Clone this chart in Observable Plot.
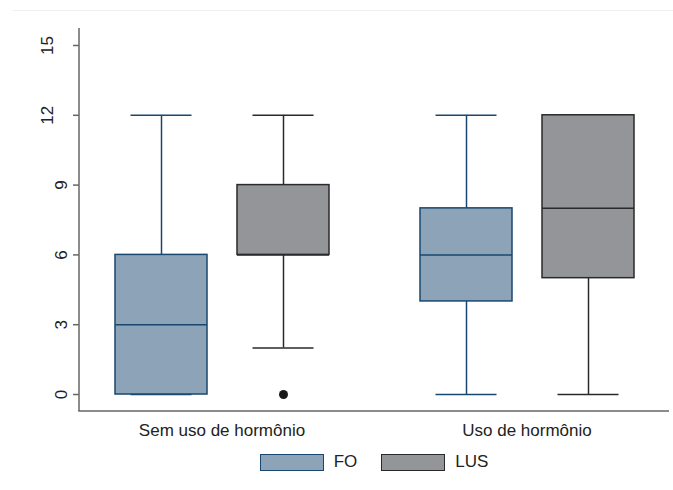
<!DOCTYPE html>
<html><head><meta charset="utf-8">
<script src="https://cdn.jsdelivr.net/npm/d3@7"></script>
<script src="https://cdn.jsdelivr.net/npm/@observablehq/plot@0.6"></script>
<style>
body{margin:0;background:#fff;font-family:"Liberation Sans",Arial,sans-serif;}
#wrap{position:relative;width:673px;height:490px;background:#fff;}
#topline{position:absolute;left:12px;top:10px;width:661px;height:1px;background:#f0f0f0;}
#legend{display:flex;justify-content:center;align-items:center;margin-left:79px;width:590px;margin-top:7px;font-size:17px;color:#222;}
.sw{box-sizing:border-box;width:64px;height:17px;border:1.5px solid;margin-right:10px;}
.item{display:flex;align-items:center;margin:0 12px;}
</style></head>
<body><div id="wrap"><div id="topline"></div><div id="chart"></div><div id="legend"></div></div>
<script>
const groups = ["Sem uso de hormônio", "Uso de hormônio"];
const series = ["FO", "LUS"];
// values per group (rows) and series (columns)
const whiskerLow  = [[0, 2], [0, 0]];
const quart1      = [[0, 6], [4, 5]];
const medians     = [[3, 6], [6, 8]];
const quart3      = [[6, 9], [8, 12]];
const whiskerHigh = [[12, 12], [12, 12]];
const outlierGroup = ["Sem uso de hormônio"];
const outlierSeries = ["LUS"];
const outlierValue = [0];
const yTicks = [0, 3, 6, 9, 12, 15];

const fillColors = {FO: "#8da4b8", LUS: "#939598"};
const strokeColors = {FO: "#1a476f", LUS: "#2a2a2a"};

const table = [];
groups.forEach((g, gi) => series.forEach((s, si) => table.push({
  group: g, series: s, lo: whiskerLow[gi][si], q1: quart1[gi][si],
  med: medians[gi][si], q3: quart3[gi][si], hi: whiskerHigh[gi][si]
})));
const outliers = outlierValue.map((v, i) => ({group: outlierGroup[i], series: outlierSeries[i], value: v}));

const marks = [];
series.forEach(s => {
  const d = table.filter(r => r.series === s);
  const st = strokeColors[s];
  marks.push(
    Plot.ruleX(d, {fx: "group", x: "series", y1: "lo", y2: "q1", stroke: st, strokeWidth: 1.5}),
    Plot.ruleX(d, {fx: "group", x: "series", y1: "q3", y2: "hi", stroke: st, strokeWidth: 1.5}),
    Plot.tickY(d, {fx: "group", x: "series", y: "lo", stroke: st, strokeWidth: 1.5, insetLeft: 15.5, insetRight: 15.5}),
    Plot.tickY(d, {fx: "group", x: "series", y: "hi", stroke: st, strokeWidth: 1.5, insetLeft: 15.5, insetRight: 15.5}),
    Plot.barY(d, {fx: "group", x: "series", y1: "q1", y2: "q3", fill: fillColors[s], stroke: st, strokeWidth: 1.5}),
    Plot.tickY(d, {fx: "group", x: "series", y: "med", stroke: st, strokeWidth: 1.5})
  );
});
marks.push(Plot.dot(outliers, {fx: "group", x: "series", y: "value", r: 4.5, fill: "#1a1a1a", stroke: "none"}));
// rotated tick labels: shorter labels sit closer to the axis, as in the original
const shortTicks = yTicks.filter(t => String(t).length === 1);
const longTicks = yTicks.filter(t => String(t).length > 1);
marks.push(Plot.axisY({ticks: shortTicks, tickSize: 6, tickPadding: 7, tickRotate: -90, fontSize: 17, stroke: "#666", strokeWidth: 1.5, fill: "#222", label: null}));
marks.push(Plot.axisY({ticks: longTicks, tickSize: 6, tickPadding: 21, tickRotate: -90, fontSize: 17, stroke: "#666", strokeWidth: 1.5, fill: "#222", label: null}));
marks.push(Plot.axisFx({anchor: "bottom", tickSize: 0, tickPadding: 12, fontSize: 17, fill: "#222", label: null}));

const plot = Plot.plot({
  width: 673, height: 445,
  marginLeft: 79, marginRight: 4, marginTop: 28, marginBottom: 34,
  style: {fontFamily: "'Liberation Sans', Arial, sans-serif", fontSize: "17px", background: "transparent", overflow: "visible"},
  fx: {domain: groups, paddingInner: 0.0656, paddingOuter: 0, label: null},
  x: {domain: series, paddingInner: 0.246, paddingOuter: 0.291, axis: null},
  y: {domain: [-0.73, 15.73], axis: null},
  marks
});
document.getElementById("chart").appendChild(plot);

// axis lines
const svg = d3.select(plot);
const [yb, yt] = plot.scale("y").range;
const left = 79, right = 673 - 4;
svg.append("line").attr("x1", left).attr("x2", left).attr("y1", yt).attr("y2", yb)
  .attr("stroke", "#666").attr("stroke-width", 1.5);
svg.append("line").attr("x1", left - 0.75).attr("x2", right).attr("y1", yb).attr("y2", yb)
  .attr("stroke", "#666").attr("stroke-width", 1.5);

// legend
const leg = d3.select("#legend");
series.forEach(s => {
  const it = leg.append("div").attr("class", "item");
  it.append("div").attr("class", "sw").style("background", fillColors[s]).style("border-color", strokeColors[s]);
  it.append("span").text(s);
});
</script></body></html>
